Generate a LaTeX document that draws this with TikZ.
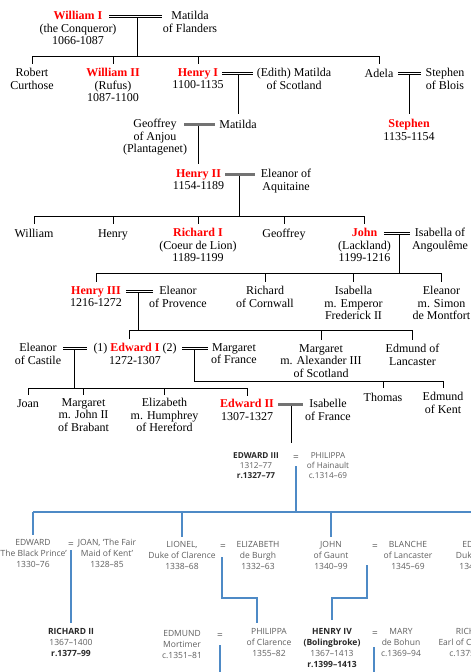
\documentclass[tikz,border=0pt]{standalone}
\usepackage{fontspec}
\setmainfont{Liberation Serif}
\setsansfont{Open Sans}
\definecolor{kred}{RGB}{255,0,0}
\definecolor{ltxt}{RGB}{95,95,95}
\definecolor{dtxt}{RGB}{40,40,40}
\definecolor{bline}{RGB}{78,138,198}
\definecolor{gbar}{RGB}{115,115,115}
\newcommand{\kingname}[1]{\textcolor{kred}{\textbf{#1}}}
\newcommand{\dkb}[1]{\textcolor{dtxt}{\textbf{#1}}}
\tikzset{
  pn/.style={anchor=north, yshift=4.75pt, inner sep=0pt, align=center,
    font=\fontsize{12}{12.5}\selectfont, execute at begin node=\strut},
  ln/.style={pn, font=\sffamily\fontsize{8.5}{11}\selectfont, text=ltxt},
  lns/.style={pn, font=\sffamily\fontsize{8.2}{10}\selectfont, text=ltxt},
  eqs/.style={pn, font=\sffamily\fontsize{10}{11}\selectfont, text=ltxt},
  tl/.style={line width=0.8pt, black},
  marr/.style={draw=none,
    preaction={draw=black, line width=0.75pt, transform canvas={yshift=1.1pt}},
    postaction={draw=black, line width=0.75pt, transform canvas={yshift=-1.1pt}}},
  gmarr/.style={line width=3pt, gbar},
  bl/.style={line width=1.1pt, bline},
}
\begin{document}
\begin{tikzpicture}[x=1pt,y=-1pt]
\useasboundingbox (0,0) rectangle (471,672);
\fill[white] (0,0) rectangle (471,672);
\clip (0,0) rectangle (471,672);

% ---------- upper (serif) part ----------
\node[pn] (w1) at (78,16) {\kingname{William I}\\(the Conqueror)\\1066-1087};
\node[pn] (mf) at (190,16) {Matilda\\of Flanders};
\node[pn] (rc) at (32,73) {Robert\\Curthose};
\node[pn] (w2) at (113,73) {\kingname{William II}\\(Rufus)\\1087-1100};
\node[pn] (h1) at (198,73) {\kingname{Henry I}\\1100-1135};
\node[pn] (ms) at (294,73) {(Edith) Matilda\\of Scotland};
\node[pn] (ad) at (379,73) {Adela};
\node[pn] (sb) at (445,73) {Stephen\\of Blois};
\node[pn] (gf) at (155,124) {Geoffrey\\of Anjou\\(Plantagenet)};
\node[pn] (mt) at (238,124) {Matilda};
\node[pn] (st) at (409,124) {\kingname{Stephen}\\1135-1154};
\node[pn] (h2) at (198.5,174) {\kingname{Henry II}\\1154-1189};
\node[pn] (ea) at (286,174) {Eleanor of\\Aquitaine};
\node[pn] (wi) at (34,233) {William};
\node[pn] (he) at (113,233) {Henry};
\node[pn] (r1) at (198,233) {\kingname{Richard I}\\(Coeur de Lion)\\1189-1199};
\node[pn] (ge) at (284,233) {Geoffrey};
\node[pn] (jo) at (364.5,233) {\kingname{John}\\(Lackland)\\1199-1216};
\node[pn] (ia) at (440,233) {Isabella of\\Angoulême};
\node[pn] (h3) at (96,291) {\kingname{Henry III}\\1216-1272};
\node[pn] (ep) at (178,291) {Eleanor\\of Provence};
\node[pn] (rcw) at (265,291) {Richard\\of Cornwall};
\node[pn] (is) at (353.5,291) {Isabella\\m. Emperor\\Frederick II};
\node[pn] (esm) at (441.5,291) {Eleanor\\m. Simon\\de Montfort};
\node[pn] (ec) at (38,348) {Eleanor\\of Castile};
\node[pn] (e1) at (135,348) {(1) \kingname{Edward I} (2)\\1272-1307};
\node[pn] (mfr) at (234,348) {Margaret\\of France};
\node[pn] (ma) at (321,349) {Margaret\\m. Alexander III\\of Scotland};
\node[pn] (el) at (412.5,349) {Edmund of\\Lancaster};
\node[pn] (jn) at (28,403) {Joan};
\node[pn] (mj) at (83.5,403) {Margaret\\m. John II\\of Brabant};
\node[pn] (eh) at (164.5,403) {Elizabeth\\m. Humphrey\\of Hereford};
\node[pn] (e2) at (247,404) {\kingname{Edward II}\\1307-1327};
\node[pn] (if) at (328,404) {Isabelle\\of France};
\node[pn] (th) at (383,397) {Thomas};
\node[pn] (ek) at (443,397) {Edmund\\of Kent};

% family 1: William I = Matilda
\draw[marr] (109,16) coordinate (m1a) -- (162,16) coordinate (m1b);
\draw[tl] (137,17.6) coordinate (d1) -- (137,56) coordinate (b1);
\draw[tl] (rc.north |- b1) -- (ad.north |- b1);
\foreach \n in {rc,w2,h1,ad} \draw[tl] (\n.north |- b1) -- ([yshift=4pt]\n.north);
% family 2: Henry I = Matilda of Scotland
\draw[marr] (222,73) coordinate (m2a) -- (253,73) coordinate (m2b);
\draw[tl] (mt.north |- m2a) ++(0,1.6) -- ([yshift=5pt]mt.north);
% family 3: Adela = Stephen of Blois
\draw[marr] (398,73) coordinate (m3a) -- (421,73) coordinate (m3b);
\draw[tl] (st.north |- m3a) ++(0,1.6) -- ([yshift=5pt]st.north);
% family 4: Geoffrey = Matilda
\draw[gmarr] (184,124) coordinate (m4a) -- (215,124) coordinate (m4b);
\draw[tl] (h2.north |- m4a) ++(0,1.5) -- ([yshift=5pt]h2.north);
% family 5: Henry II = Eleanor of Aquitaine
\draw[gmarr] (225,174) coordinate (m5a) -- (255,174) coordinate (m5b);
\draw[tl] (239,175.5) coordinate (d5) -- (239,216) coordinate (b5);
\draw[tl] (wi.north |- b5) -- (jo.north |- b5);
\foreach \n in {wi,he,r1,ge,jo} \draw[tl] (\n.north |- b5) -- ([yshift=4pt]\n.north);
% family 6: John = Isabella of Angouleme
\draw[marr] (384,233) coordinate (m6a) -- (410,233) coordinate (m6b);
\draw[tl] (399,234.6) coordinate (d6) -- (399,273) coordinate (b6);
\draw[tl] (h3.north |- b6) -- (esm.north |- b6);
\foreach \n in {h3,rcw,is,esm} \draw[tl] (\n.north |- b6) -- ([yshift=4pt]\n.north);
% family 7: Henry III = Eleanor of Provence
\draw[marr] (126,291) coordinate (m7a) -- (153,291) coordinate (m7b);
\draw[tl] (138,292.6) coordinate (d7) -- (138,330) coordinate (b7);
\draw[tl] ([xshift=-6pt]e1.north |- b7) -- (el.north |- b7);
\draw[tl] ([xshift=-6pt]e1.north |- b7) -- ([xshift=-6pt,yshift=4pt]e1.north);
\foreach \n in {ma,el} \draw[tl] (\n.north |- b7) -- ([yshift=4pt]\n.north);
% family 8: Eleanor of Castile (1) Edward I
\draw[marr] (63,348) coordinate (m8a) -- (87,348) coordinate (m8b);
\draw[tl] (74,349.6) coordinate (d8) -- (74,388) coordinate (b8);
\draw[tl] (jn.north |- b8) -- (e2.north |- b8);
\foreach \n in {jn,mj,eh,e2} \draw[tl] (\n.north |- b8) -- ([yshift=3pt]\n.north);
% family 9: Edward I (2) Margaret of France
\draw[marr] (182,348) coordinate (m9a) -- (208,348) coordinate (m9b);
\draw[tl] (194,349.6) coordinate (d9) -- (194,381) coordinate (b9) -- (ek.north |- b9);
\foreach \n in {th,ek} \draw[tl] (\n.north |- b9) -- ([yshift=4pt]\n.north);
% family 10: Edward II = Isabelle of France
\draw[gmarr] (278,404) coordinate (m10a) -- (303,404) coordinate (m10b);
\draw[tl] (291,405.5) coordinate (d10) -- (291,443) coordinate (d10e);

% ---------- lower (sans) part ----------
\node[lns] (e3) at (256,457) {\dkb{EDWARD III}\\1312–77\\\dkb{r.1327–77}};
\node[eqs] (eq1) at (296,457) {=};
\node[lns] (ph) at (328,457) {PHILIPPA\\of Hainault\\c.1314–69};

\node[ln] (eb) at (33,544) {EDWARD\\`The Black Prince'\\1330–76};
\node[eqs] (eq2) at (71,544) {=};
\node[ln] (jk) at (107,544) {JOAN, `The Fair\\Maid of Kent'\\1328–85};
\node[ln] (li) at (182,546) {LIONEL,\\Duke of Clarence\\1338–68};
\node[eqs] (eq3) at (223,546) {=};
\node[ln] (ebg) at (258,546) {ELIZABETH\\de Burgh\\1332–63};
\node[ln] (jg) at (331,546) {JOHN\\of Gaunt\\1340–99};
\node[eqs] (eq4) at (375,546) {=};
\node[ln] (bl) at (408,546) {BLANCHE\\of Lancaster\\1345–69};
\node[ln] (ey) at (481,546) {EDMUND\\Duke of York\\1341–1402};

\node[ln] (r2) at (71,633) {\dkb{RICHARD II}\\1367–1400\\\dkb{r.1377–99}};
\node[ln] (em) at (182,635) {EDMUND\\Mortimer\\c.1351–81};
\node[eqs] (eq5) at (220,635) {=};
\node[ln] (pc) at (269,633) {PHILIPPA\\of Clarence\\1355–82};
\node[ln] (h4) at (332,633) {\dkb{HENRY IV}\\\dkb{(Bolingbroke)}\\1367–1413\\\dkb{r.1399–1413}};
\node[eqs] (eq6) at (375,633) {=};
\node[ln] (mb) at (401,633) {MARY\\de Bohun\\c.1369–94};
\node[ln] (rcb) at (474,633) {RICHARD\\Earl of Cambridge\\c.1375–1415};

% Edward III = Philippa
\draw[bl] (296,466) coordinate (d11) -- (296,512) coordinate (b11);
\draw[bl] (eb.north |- b11) -- (471,512) coordinate (b11e);
\foreach \n in {eb,li,jg} \draw[bl] (\n.north |- b11) -- ([yshift=4pt]\n.north);
% Black Prince = Joan
\draw[bl] (71,550) coordinate (d12) -- ([yshift=5pt]r2.north);
% Lionel = Elizabeth
\draw[bl] (222,557) coordinate (d13) -- (222,598) coordinate (k3) -- (257,598) coordinate (k3b) -- (257,623) coordinate (k3e);
% John = Blanche
\draw[bl] (367,565) coordinate (k4) -- (367,598) coordinate (k4b) -| ([yshift=8pt]h4.north);
% Edmund Mortimer = Philippa
\draw[bl] (220,645) coordinate (d15) -- (220,672) coordinate (k5e);
% Henry IV = Mary
\draw[bl] (374,647) coordinate (d16) -- (374,672) coordinate (k6e);
\end{tikzpicture}
\end{document}
